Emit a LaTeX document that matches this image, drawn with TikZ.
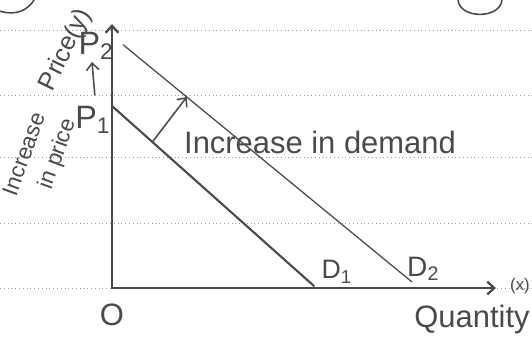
\documentclass[tikz,border=0pt]{standalone}
\usepackage{fontspec}
\setmainfont{Liberation Sans}
\usepackage{tikz}
\usetikzlibrary{calc,positioning,arrows.meta}
\usepackage{xcolor}
\definecolor{pencil}{HTML}{4A4A4A}

\begin{document}
\begin{tikzpicture}[
  pen/.style={pencil,line width=1.1pt,line cap=round},
  barb/.style={-{Straight Barb[length=5pt,width=9pt]}},
  rule/.style={black!40,dotted,line width=0.7pt},
  hand/.style={text=pencil,inner sep=0pt,font=\fontsize{22}{24}\selectfont}
]
  \useasboundingbox (-2.8,-1.625) rectangle (10.5,7.2);
  % ruled paper
  \foreach \y in {6.45,4.825,3.275,1.625,0}
    \draw[rule] (-2.8,\y) -- (10.5,\y);
  % bits of other sketches at the top
  \draw[pen] (-2.8,6.92) .. controls (-2.4,6.8) and (-2.1,6.95) .. (-1.95,7.2);
  \draw[pen] (8.65,7.2) .. controls (8.7,6.72) and (9.7,6.72) .. (9.75,7.2);

  % axes
  \coordinate (O) at (0,0);
  \coordinate (ytop) at (0,6.6);
  \coordinate (xend) at (9.6,0);
  \draw[pen,line width=1.6pt,barb] (O) -- (ytop);
  \draw[pen,line width=1.6pt,barb] (O) -- (xend);
  \node[hand] (orig) at (0,-0.68) {O};
  \node[hand] (qty) at (9.0,-0.8) {Quantity};
  \node[hand,font=\fontsize{12}{14}\selectfont] (xlab) at (10.2,0.05) {(x)};

  % demand curves
  \coordinate (d1a) at (0,4.55); \coordinate (d1b) at (5.05,0.05);
  \coordinate (d2a) at (0.28,6.08); \coordinate (d2b) at (7.5,0.15);
  \draw[pen,line width=1.5pt] (d1a) -- (d1b);
  \draw[pen,line width=0.9pt] (d2a) -- (d2b);
  \node[hand,font=\fontsize{19}{21}\selectfont] (D1) at (5.62,0.4) {D\textsubscript{1}};
  \node[hand,font=\fontsize{20}{22}\selectfont] (D2) at (7.78,0.48) {D\textsubscript{2}};

  % shift
  \coordinate (s1) at ($(d1a)!0.2!(d1b)$);
  \coordinate (s2) at ($(d2a)!0.22!(d2b)$);
  \draw[pen,barb] (s1) -- (s2);
  \node[hand] (shift) at (5.2,3.63) {Increase in demand};

  % price axis labels
  \node[hand,font=\fontsize{23}{25}\selectfont] (P1) at (-0.48,4.2) {P\textsubscript{1}};
  \node[hand,font=\fontsize{23}{25}\selectfont] (P2) at (-0.4,6.05) {P\textsubscript{2}};
  \coordinate (pa) at (-0.43,4.83);
  \coordinate (pb) at (-0.5,5.65);
  \draw[pen,barb] (pa) -- (pb);
  \node[hand,font=\fontsize{18}{20}\selectfont,rotate=64] (price) at (-1.15,5.95) {Price(y)};
  \node[hand,font=\fontsize{16}{18}\selectfont,rotate=70] (inc) at (-2.2,3.35) {Increase};
  \node[hand,font=\fontsize{16}{18}\selectfont,rotate=70] (inprice) at (-1.35,3.35) {in price};
\end{tikzpicture}
\end{document}
